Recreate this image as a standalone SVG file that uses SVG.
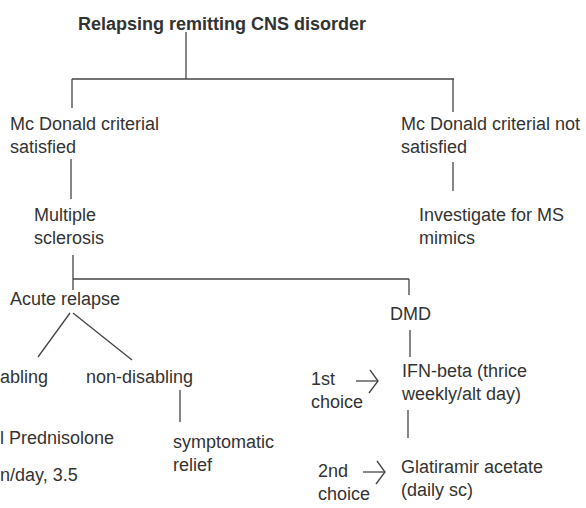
<svg xmlns="http://www.w3.org/2000/svg" width="586" height="508" viewBox="0 0 586 508">
<style>
text{font-family:"Liberation Sans",Arial,sans-serif;font-size:18px;fill:#333}
.t{font-weight:bold}
.c line,.c polyline{stroke:#444;stroke-width:1.3;fill:none}
</style>
<rect width="586" height="508" fill="#fff"/>
<g class="c" id="connectors">
<line x1="186" y1="32" x2="186" y2="79"/>
<line x1="72" y1="79" x2="454" y2="79"/>
<line x1="72" y1="79" x2="72" y2="108"/>
<line x1="453" y1="79" x2="453" y2="112"/>
<line x1="71" y1="159" x2="71" y2="199"/>
<line x1="453" y1="162" x2="453" y2="191"/>
<line x1="73" y1="255" x2="73" y2="290"/>
<line x1="73" y1="279" x2="409" y2="279"/>
<line x1="409" y1="279" x2="409" y2="295"/>
<line x1="70" y1="313" x2="38" y2="357"/>
<line x1="73" y1="313" x2="132" y2="360"/>
<line x1="180" y1="390" x2="180" y2="422"/>
<line x1="410" y1="330" x2="410" y2="357"/>
<line x1="408" y1="410" x2="408" y2="438"/>
<line x1="356" y1="381" x2="378" y2="381"/>
<polyline points="370,370 378,381 369,393"/>
<line x1="363" y1="472" x2="385" y2="472"/>
<polyline points="377,461 385,472 376,484"/>
</g>
<g id="root"><text class="t" x="78" y="30">Relapsing remitting CNS disorder</text></g>
<g id="mcd-yes"><text x="10" y="130">Mc Donald criterial</text><text x="10" y="153">satisfied</text></g>
<g id="mcd-no"><text x="401" y="130">Mc Donald criterial not</text><text x="401" y="153">satisfied</text></g>
<g id="ms"><text x="34" y="221">Multiple</text><text x="34" y="244">sclerosis</text></g>
<g id="mimics"><text x="419" y="221">Investigate for MS</text><text x="419" y="244">mimics</text></g>
<g id="acute"><text x="10" y="305">Acute relapse</text></g>
<g id="disabling"><text x="0" y="383">abling</text></g>
<g id="nondisabling"><text x="86" y="383">non-disabling</text></g>
<g id="steroid"><text x="0" y="444">l Prednisolone</text><text x="0" y="481">n/day, 3.5</text></g>
<g id="symptomatic"><text x="173" y="448">symptomatic</text><text x="173" y="471">relief</text></g>
<g id="dmd"><text x="390" y="320">DMD</text></g>
<g id="ifn"><text x="402" y="377">IFN-beta (thrice</text><text x="402" y="400">weekly/alt day)</text></g>
<g id="first"><text x="311" y="385">1st</text><text x="311" y="408">choice</text></g>
<g id="glat"><text x="401" y="473">Glatiramir acetate</text><text x="401" y="496">(daily sc)</text></g>
<g id="second"><text x="318" y="477">2nd</text><text x="318" y="500">choice</text></g>
</svg>
